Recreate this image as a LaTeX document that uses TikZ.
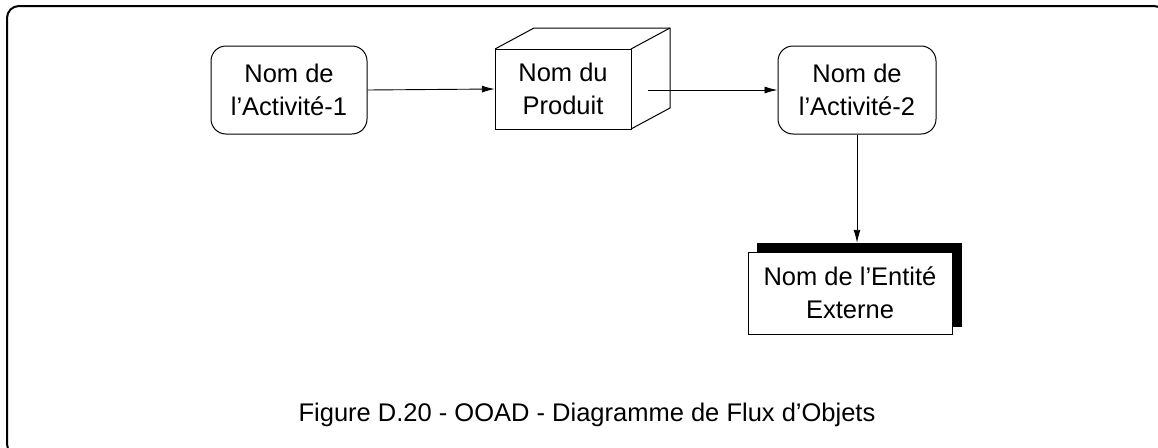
\documentclass[tikz,border=0pt]{standalone}
\usepackage{fontspec}
\setmainfont{Liberation Sans}
\usetikzlibrary{arrows.meta}
\begin{document}
\begin{tikzpicture}[x=1pt,y=-1pt,
  lbl/.style={font=\fontsize{25.5}{33}\selectfont, align=center, inner sep=0pt},
  activity/.style={draw, line width=1pt, rounded corners=15pt, minimum width=156pt, minimum height=88pt, lbl},
  conn/.style={line width=0.9pt, -{Latex[length=13pt,width=7pt]}}
]
\useasboundingbox (0,0) rectangle (1158,447);
% outer frame
\draw[line width=2pt, rounded corners=12pt] (7,6) rectangle (1166,456);
% activity 1
\node[activity] (a1) at (289,90) {Nom de\\l’Activité-1};
% cube (product)
\draw[line width=1pt] (495,49) rectangle (631,129);
\draw[line width=1pt] (495,49) -- (534,28) -- (670,28) -- (670,108) -- (631,129);
\draw[line width=1pt] (631,49) -- (670,28);
\node[lbl, minimum width=136pt, minimum height=80pt] (prod) at (563,89) {Nom du\\Produit};
% activity 2
\node[activity, minimum width=158pt] (a2) at (857,90) {Nom de\\l’Activité-2};
% external entity
\node[fill=black, minimum width=205pt, minimum height=84pt, inner sep=0pt] (shadow) at (859.5,285) {};
\node[draw, fill=white, line width=1pt, lbl, minimum width=204pt, minimum height=82pt] (ent) at (850,293) {Nom de l’Entité\\Externe};
% connectors
\coordinate (pout) at (648,90);
\draw[conn] (a1.east) -- (prod.west);
\draw[conn] (pout) -- (a2.west);
\draw[conn] (a2.south) -- (a2.south |- shadow.north);
% caption
\node[font=\fontsize{25.5}{32}\selectfont, inner sep=0pt] (cap) at (587,415) {Figure D.20 - OOAD - Diagramme de Flux d’Objets};
\end{tikzpicture}
\end{document}
